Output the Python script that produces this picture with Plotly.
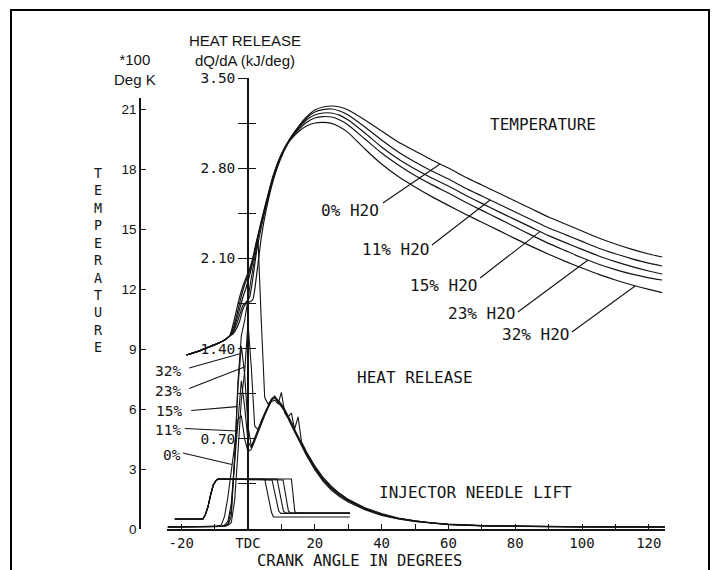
import plotly.graph_objects as go

W, H = 718, 570

# ---------------- data ----------------
WATER = ["0%", "11%", "15%", "23%", "32%"]

# Gas temperature (x100 K) vs crank angle (deg)
T_ANG = [-18.4, -15, -12, -9, -7, -5.5, -4.5, -3.5, -2.5, -1.5, -0.5, 0.5, 1.5, 2.5, 4, 5.5, 7.5, 10,
         12.5, 15, 17.5, 20, 22.5, 25, 27.5, 30, 35, 40, 45, 50, 55, 60, 65, 70, 75, 80, 85, 90, 95,
         100, 105, 110, 115, 120, 124]
T_0 = [8.7, 8.88, 9.08, 9.28, 9.45, 9.65, 10.2, 10.9, 11.6, 12.15, 12.6, 13.0, 13.6, 14.35, 15.4, 16.4, 17.65, 18.75,
       19.5, 20.1, 20.6, 20.95, 21.1, 21.15, 21.1, 20.95, 20.45, 19.9, 19.35, 18.9, 18.45, 18.05, 17.6, 17.2, 16.8,
       16.4, 16.0, 15.6, 15.25, 14.9, 14.55, 14.25, 13.98, 13.75, 13.6]
T_11 = [8.7, 8.88, 9.08, 9.28, 9.45, 9.65, 10.0, 10.6, 11.3, 11.95, 12.45, 12.9, 13.5, 14.3, 15.35, 16.35, 17.6, 18.72,
        19.5, 20.07, 20.54, 20.85, 20.97, 21.0, 20.9, 20.7, 20.1, 19.45, 18.85, 18.35, 17.9, 17.5, 17.05, 16.65, 16.25,
        15.85, 15.45, 15.05, 14.72, 14.38, 14.04, 13.76, 13.51, 13.29, 13.15]
T_15 = [8.7, 8.88, 9.08, 9.28, 9.45, 9.65, 9.9, 10.4, 11.0, 11.6, 12.1, 12.7, 13.4, 14.2, 15.3, 16.3, 17.55, 18.7,
        19.48, 20.02, 20.45, 20.7, 20.8, 20.8, 20.68, 20.45, 19.8, 19.1, 18.5, 18.0, 17.55, 17.15, 16.7, 16.28, 15.87,
        15.47, 15.07, 14.67, 14.32, 13.98, 13.65, 13.37, 13.12, 12.9, 12.75]
T_23 = [8.7, 8.88, 9.08, 9.28, 9.45, 9.65, 9.8, 10.2, 10.7, 11.2, 11.35, 11.6, 12.6, 13.8, 15.1, 16.2, 17.5, 18.65,
        19.45, 19.95, 20.33, 20.55, 20.62, 20.6, 20.45, 20.2, 19.5, 18.8, 18.2, 17.68, 17.22, 16.8, 16.35, 15.93, 15.52,
        15.1, 14.68, 14.28, 13.92, 13.56, 13.24, 12.97, 12.74, 12.56, 12.45]
T_32 = [8.7, 8.88, 9.08, 9.28, 9.45, 9.65, 9.75, 10.0, 10.4, 11.0, 11.3, 11.35, 11.5, 12.6, 14.6, 16.0, 17.4, 18.6,
        19.4, 19.85, 20.15, 20.3, 20.33, 20.28, 20.1, 19.82, 19.0, 18.25, 17.62, 17.1, 16.62, 16.18, 15.75, 15.34, 14.93,
        14.52, 14.12, 13.74, 13.38, 13.05, 12.73, 12.45, 12.2, 11.98, 11.82]

# Heat release dQ/dA (kJ/deg) vs crank angle
HR_ANG = [-24, -16, -10, -8, -7, -6, -5, -4, -3, -2, -1, 0,
          1, 2, 3, 4, 5, 6, 7, 8, 9, 10, 11, 12, 13, 14, 15, 16,
          17.5, 20, 22.5, 25, 27.5, 30, 35, 40, 45, 50, 55, 60,
          70, 80, 90, 100, 110, 120, 125]
HR_0 = [0.015, 0.015, 0.02, 0.03, 0.1, 0.25, 0.45, 0.68, 0.85, 0.88, 0.7, 0.6,
        0.62, 0.68, 0.75, 0.82, 0.88, 0.94, 0.99, 1.0, 0.97, 1.06, 0.9, 0.86, 0.8, 0.75, 0.7, 0.65,
        0.57, 0.46, 0.37, 0.3, 0.25, 0.21, 0.15, 0.105, 0.078, 0.058, 0.044, 0.034,
        0.024, 0.02, 0.018, 0.016, 0.015, 0.015, 0.015]
HR_11 = [0.015, 0.015, 0.018, 0.02, 0.03, 0.06, 0.2, 0.5, 0.85, 1.15, 0.95, 0.68,
         0.63, 0.7, 0.77, 0.83, 0.89, 0.95, 1.0, 1.02, 0.99, 0.96, 0.92, 0.87, 0.9, 0.77, 0.72, 0.67,
         0.59, 0.48, 0.39, 0.32, 0.27, 0.225, 0.16, 0.115, 0.083, 0.062, 0.047, 0.037,
         0.026, 0.021, 0.019, 0.017, 0.016, 0.015, 0.015]
HR_15 = [0.015, 0.015, 0.018, 0.02, 0.025, 0.04, 0.15, 0.55, 1.1, 1.42, 1.2, 0.8,
         0.64, 0.71, 0.78, 0.84, 0.9, 0.96, 1.01, 1.03, 1.0, 0.97, 0.93, 0.88, 0.83, 0.78, 0.87, 0.68,
         0.6, 0.49, 0.4, 0.33, 0.275, 0.23, 0.165, 0.12, 0.086, 0.064, 0.048, 0.038,
         0.027, 0.022, 0.019, 0.017, 0.016, 0.015, 0.015]
HR_23 = [0.015, 0.015, 0.018, 0.02, 0.022, 0.03, 0.05, 0.22, 0.6, 1.0, 1.22, 1.6,
         1.25, 0.8, 0.77, 0.83, 0.89, 0.95, 1.0, 1.02, 0.99, 0.96, 0.92, 0.87, 0.82, 0.77, 0.72, 0.67,
         0.585, 0.475, 0.385, 0.315, 0.265, 0.222, 0.158, 0.112, 0.081, 0.061, 0.046, 0.036,
         0.025, 0.02, 0.018, 0.016, 0.015, 0.015, 0.015]
HR_32 = [0.015, 0.015, 0.018, 0.02, 0.022, 0.03, 0.1, 0.55, 1.15, 1.5, 1.62, 1.8,
         1.95, 2.1, 2.25, 1.6, 1.02, 0.97, 1.0, 1.03, 0.98, 0.95, 0.91, 0.86, 0.81, 0.76, 0.71, 0.66,
         0.58, 0.47, 0.38, 0.31, 0.26, 0.218, 0.153, 0.108, 0.079, 0.059, 0.045, 0.035,
         0.025, 0.02, 0.018, 0.016, 0.015, 0.015, 0.015]

# Injector needle lift (arbitrary units, drawn against the temperature scale)
LIFT_OPEN_ANG = [-21.9, -13.5, -12.8, -12.0, -11.2, -10.4, -9.6, -9.0]
LIFT_OPEN_VAL = [0.5, 0.5, 0.7, 1.1, 1.7, 2.2, 2.42, 2.5]
LIFT_CLOSE_ANG = [[5.0, 6.0, 7.0, 7.6, 30.5],
                  [7.2, 8.2, 9.2, 9.8, 30.5],
                  [8.7, 9.7, 10.6, 11.2, 30.5],
                  [10.5, 11.3, 12.1, 12.7, 30.5],
                  [13.0, 13.5, 14.0, 14.4, 30.5]]
LIFT_CLOSE_VAL = [[2.5, 1.6, 0.85, 0.6, 0.6],
                  [2.45, 1.6, 0.9, 0.78, 0.78],
                  [2.5, 1.6, 0.9, 0.8, 0.8],
                  [2.45, 1.6, 0.9, 0.8, 0.8],
                  [2.5, 1.6, 0.9, 0.8, 0.8]]

# Axis ticks
X_TICKS = [-20, -10, 0, 10, 20, 30, 40, 50, 60, 70, 80, 90, 100, 110, 120]
X_TEXT = ["-20", "", "TDC", "", "20", "", "40", "", "60", "", "80", "", "100", "", "120"]
T_TICKS = [0, 3, 6, 9, 12, 15, 18, 21]
HR_TICKS = [0.35, 0.7, 1.05, 1.4, 1.75, 2.1, 2.45, 2.8, 3.15, 3.5]
HR_TEXT = ["", "0.70", "", "1.40", "", "2.10", "", "2.80", "", "3.50"]

# Curve labels: (text, label x, label y, leader start x,y, leader end x,y)
T_LABELS = [("0% H2O", 30.5, 15.95, 40.4, 16.3, 57.5, 18.25),
            ("11% H2O", 44.3, 14.0, 55.1, 14.2, 72.5, 16.45),
            ("15% H2O", 58.4, 12.2, 69.5, 12.55, 87.4, 14.87),
            ("23% H2O", 69.8, 10.8, 80.8, 10.85, 101.8, 13.45),
            ("32% H2O", 86.2, 9.75, 97.0, 9.85, 115.9, 12.15)]
HR_LABELS = [("32%", -24.0, 1.23, -17.6, 1.25, -2.4, 1.36),
             ("23%", -24.1, 1.071, -17.6, 1.09, -0.9, 1.26),
             ("15%", -23.7, 0.915, -17.0, 0.92, -3.3, 0.95),
             ("11%", -24.0, 0.768, -18.9, 0.78, -3.3, 0.76),
             ("0%", -22.8, 0.574, -19.5, 0.59, -4.8, 0.5)]

# ---------------- figure ----------------
INK = "#141414"
MONO = "DejaVu Sans Mono"
SANS = "Liberation Sans"

fig = go.Figure()
temps = [T_0, T_11, T_15, T_23, T_32]
hrs = [HR_0, HR_11, HR_15, HR_23, HR_32]
for name, vals in zip(WATER, temps):
    fig.add_trace(go.Scatter(x=T_ANG, y=vals, mode="lines", name="T " + name,
                             line=dict(color=INK, width=1.2, shape="spline", smoothing=0.5),
                             xaxis="x", yaxis="y", hoverinfo="skip"))
for name, vals in zip(WATER, hrs):
    fig.add_trace(go.Scatter(x=HR_ANG, y=vals, mode="lines", name="HR " + name,
                             line=dict(color=INK, width=1.1),
                             xaxis="x", yaxis="y2", hoverinfo="skip"))
for i, name in enumerate(WATER):
    fig.add_trace(go.Scatter(x=LIFT_OPEN_ANG + LIFT_CLOSE_ANG[i], y=LIFT_OPEN_VAL + LIFT_CLOSE_VAL[i],
                             mode="lines", name="Lift " + name,
                             line=dict(color=INK, width=1.1),
                             xaxis="x", yaxis="y", hoverinfo="skip"))
# carrier for the inner half of the heat-release ticks
fig.add_trace(go.Scatter(x=[None], y=[None], mode="markers", yaxis="y3", xaxis="x",
                         showlegend=False, hoverinfo="skip"))

Y_BOT = (H - 529) / H
fig.update_layout(
    template="none",
    width=W, height=H, autosize=False,
    margin=dict(l=0, r=0, t=0, b=0, pad=0, autoexpand=False),
    paper_bgcolor="white", plot_bgcolor="rgba(0,0,0,0)",
    showlegend=False,
    xaxis=dict(domain=[167 / W, 665 / W], range=[-24.25, 124.85], anchor="y", automargin=False,
               showline=True, linecolor=INK, linewidth=1.5,
               ticks="inside", ticklen=5, tickwidth=1.2, tickcolor=INK,
               tickmode="array", tickvals=X_TICKS, ticktext=X_TEXT,
               tickfont=dict(family=MONO, size=14, color=INK),
               showgrid=False, zeroline=False),
    yaxis=dict(domain=[Y_BOT, (H - 98) / H], range=[0, 21.55], anchor="free", position=140 / W,
               automargin=False,
               showline=True, linecolor=INK, linewidth=1.5,
               ticks="inside", ticklen=5, tickwidth=1.2, tickcolor=INK,
               tickmode="array", tickvals=T_TICKS, ticktext=[str(v) for v in T_TICKS],
               tickfont=dict(family=SANS, size=13.5, color=INK),
               showgrid=False, zeroline=False),
    yaxis2=dict(domain=[Y_BOT, (H - 78) / H], range=[0, 3.5], anchor="free", position=248 / W,
                automargin=False,
                showline=True, linecolor=INK, linewidth=1.5,
                ticks="outside", ticklen=9, tickwidth=1.2, tickcolor=INK,
                tickmode="array", tickvals=HR_TICKS, ticktext=HR_TEXT,
                tickfont=dict(family=MONO, size=14.5, color=INK),
                showgrid=False, zeroline=False),
    yaxis3=dict(overlaying="y2", range=[0, 3.5], anchor="free", position=248 / W, automargin=False,
                showline=False, ticks="inside", ticklen=7, tickwidth=1.2, tickcolor=INK,
                tickmode="array", tickvals=HR_TICKS, showticklabels=False,
                showgrid=False, zeroline=False),
)

shapes = [dict(type="rect", xref="paper", yref="paper", x0=11 / W, x1=709 / W, y0=-0.05, y1=1 - 10 / H,
               line=dict(color="black", width=2), fillcolor="rgba(0,0,0,0)")]
annotations = []


def label(x, y, text, xref, yref, family=MONO, size=16):
    return dict(x=x, y=y, xref=xref, yref=yref, text=text, showarrow=False,
                xanchor="center", yanchor="middle", borderpad=0,
                font=dict(family=family, size=size, color=INK))


for text, lx, ly, sx, sy, ex, ey in T_LABELS:
    annotations.append(label(lx, ly, text, "x", "y"))
    shapes.append(dict(type="line", xref="x", yref="y", x0=sx, y0=sy, x1=ex, y1=ey,
                       line=dict(color=INK, width=1.1)))
for text, lx, ly, sx, sy, ex, ey in HR_LABELS:
    annotations.append(label(lx, ly, text, "x", "y2", MONO, 14.5))
    shapes.append(dict(type="line", xref="x", yref="y2", x0=sx, y0=sy, x1=ex, y1=ey,
                       line=dict(color=INK, width=1.1)))

annotations += [
    label(88.3, 20.2, "TEMPERATURE", "x", "y"),
    label(50.0, 7.6, "HEAT RELEASE", "x", "y"),
    label(68.0, 1.85, "INJECTOR NEEDLE LIFT", "x", "y"),
    label(359 / W, 1 - 561 / H, "CRANK ANGLE IN DEGREES", "paper", "paper", MONO, 15.5),
    label(245 / W, 1 - 50 / H, "HEAT RELEASE<br>dQ/dA (kJ/deg)", "paper", "paper", SANS, 15),
    label(135 / W, 1 - 70 / H, "*100<br>Deg K", "paper", "paper", SANS, 15),
    label(98 / W, 1 - 260 / H, "<br>".join("TEMPERATURE"), "paper", "paper", MONO, 13.4),
]
fig.update_layout(shapes=shapes, annotations=annotations)

fig.write_html("out.html")
